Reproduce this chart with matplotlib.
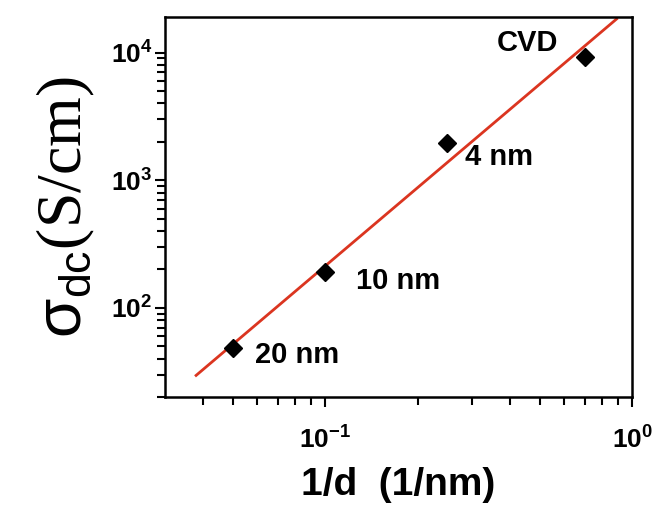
"""Conductivity vs inverse thickness, log-log with power-law fit."""

import matplotlib
matplotlib.use("Agg")
import matplotlib.pyplot as plt
import numpy as np

# data
labels = ["20 nm", "10 nm", "4 nm", "CVD"]
inv_d = [0.05, 0.10, 0.25, 0.70]          # 1/nm
sigma_dc = [48.5, 192.0, 1960.0, 9300.0]  # S/cm
fit_range = [0.038, 0.89]

plt.rcParams["font.family"] = ["Liberation Sans", "DejaVu Sans"]
plt.rcParams["mathtext.fontset"] = "custom"
plt.rcParams["mathtext.rm"] = "Liberation Serif"
plt.rcParams["mathtext.sf"] = "Liberation Sans"
plt.rcParams["mathtext.it"] = "Liberation Serif:italic"

fig = plt.figure(figsize=(6.53, 5.16), dpi=100)
ax = fig.add_axes([0.2527, 0.2306, 0.7153, 0.7364])

# power-law fit in log space
slope, icpt = np.polyfit(np.log10(inv_d), np.log10(sigma_dc), 1)
fx = np.array(fit_range)
fy = 10 ** (icpt + slope * np.log10(fx))
ax.plot(fx, fy, color="#db3520", lw=2, zorder=2)

ax.plot(inv_d, sigma_dc, "D", color="black", ms=9, zorder=3)

# point labels (offsets in points)
offsets = {"20 nm": (16, -5), "10 nm": (22, -7), "4 nm": (13, -10), "CVD": (-63, 10)}
for lab, x, y in zip(labels, inv_d, sigma_dc):
    dx, dy = offsets[lab]
    ax.annotate(lab, (x, y), xytext=(dx, dy), textcoords="offset points",
                fontsize=21, fontweight="bold", va="center", ha="left")

ax.set_xscale("log")
ax.set_yscale("log")
ax.set_xlim(0.0301, 1.0)
ax.set_ylim(20, 1.9e4)

for sp in ax.spines.values():
    sp.set_linewidth(1.8)

ax.tick_params(which="both", direction="out", width=1.5, top=False, right=False,
               labelsize=19)
ax.tick_params(which="major", length=7)
ax.tick_params(which="minor", length=6)
ax.tick_params(axis="x", pad=14)
ax.tick_params(axis="y", pad=2)
ax.set_xticks([0.1, 1.0])
ax.set_xticklabels([r"$\mathdefault{10^{-1}}$", r"$\mathdefault{10^{0}}$"])
for t in ax.get_xticklabels() + ax.get_yticklabels():
    t.set_fontweight("bold")

ax.set_xlabel("1/d  (1/nm)", fontsize=28, fontweight="bold", labelpad=10)
ax.set_ylabel(r"$\mathsf{\sigma_{dc}}$(S/cm)", fontsize=46,
              fontfamily="Liberation Serif", labelpad=10)

fig.savefig("out.png", dpi=100)
